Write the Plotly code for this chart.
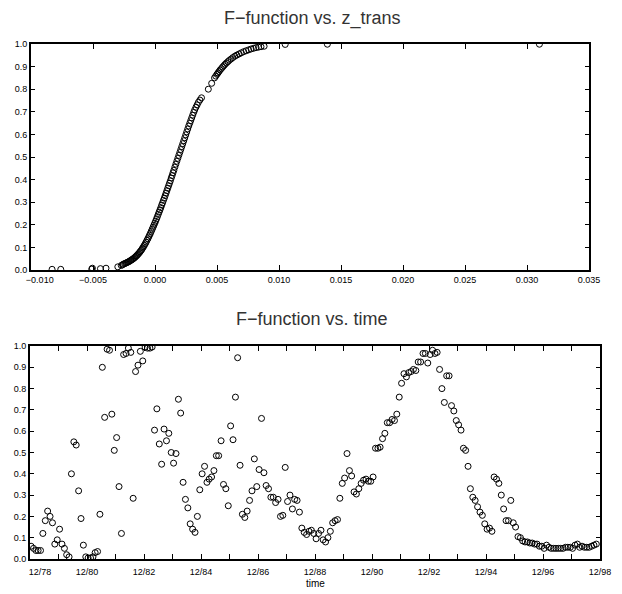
import plotly.graph_objects as go

# ---------------- data: F-function vs. z_trans ----------------
z_trans = [
    -0.00830, -0.00760, -0.00510, -0.00505, -0.00440, -0.00395,
    -0.00300, -0.00272, -0.00262, -0.00255, -0.00245, -0.00238, -0.00230, -0.00222,
    -0.00215, -0.00208, -0.00200, -0.00193, -0.00186, -0.00180, -0.00173, -0.00166,
    -0.00160, -0.00153, -0.00146, -0.00140, -0.00133, -0.00126, -0.00120, -0.00113,
    -0.00106, -0.00100, -0.00093, -0.00086, -0.00079, -0.00072, -0.00065, -0.00058,
    -0.00051, -0.00044, -0.00037, -0.00030, -0.00023, -0.00016, -0.00009, -0.00002,
    0.00005, 0.00012, 0.00019, 0.00026, 0.00033, 0.00040, 0.00047, 0.00054,
    0.00061, 0.00068, 0.00075, 0.00082, 0.00089, 0.00096, 0.00103, 0.00110,
    0.00117, 0.00124, 0.00131, 0.00138, 0.00145, 0.00152, 0.00160, 0.00168,
    0.00176, 0.00184, 0.00192, 0.00200, 0.00208, 0.00216, 0.00224, 0.00232,
    0.00240, 0.00248, 0.00256, 0.00264, 0.00272, 0.00280, 0.00288, 0.00296,
    0.00304, 0.00312, 0.00320, 0.00330, 0.00340, 0.00350, 0.00362, 0.00375,
    0.00430, 0.00457,
    0.00480, 0.00490, 0.00500, 0.00508, 0.00516, 0.00525, 0.00535, 0.00545,
    0.00555, 0.00565, 0.00576, 0.00588, 0.00600, 0.00614, 0.00628, 0.00644,
    0.00660, 0.00678, 0.00696, 0.00715, 0.00735, 0.00755, 0.00775, 0.00795,
    0.00815, 0.00835, 0.00855, 0.00880,
    0.01050, 0.01390, 0.03100,
]
F_z = [
    0.003, 0.003, 0.004, 0.008, 0.006, 0.008,
    0.014, 0.020, 0.023, 0.026, 0.028, 0.030, 0.032, 0.034,
    0.036, 0.038, 0.041, 0.043, 0.046, 0.048, 0.051, 0.054,
    0.057, 0.061, 0.064, 0.068, 0.072, 0.077, 0.081, 0.086,
    0.091, 0.097, 0.103, 0.109, 0.116, 0.123, 0.131, 0.138,
    0.146, 0.154, 0.162, 0.171, 0.180, 0.189, 0.198, 0.207,
    0.216, 0.226, 0.236, 0.246, 0.256, 0.266, 0.276, 0.287,
    0.297, 0.308, 0.318, 0.329, 0.340, 0.351, 0.362, 0.373,
    0.384, 0.395, 0.407, 0.418, 0.430, 0.441, 0.455, 0.468,
    0.481, 0.494, 0.507, 0.520, 0.533, 0.546, 0.559, 0.572,
    0.585, 0.598, 0.611, 0.624, 0.637, 0.649, 0.661, 0.673,
    0.685, 0.697, 0.708, 0.720, 0.731, 0.742, 0.752, 0.762,
    0.800, 0.826,
    0.850, 0.858, 0.866, 0.872, 0.878, 0.885, 0.891, 0.898,
    0.904, 0.910, 0.916, 0.922, 0.928, 0.934, 0.940, 0.946,
    0.951, 0.956, 0.961, 0.966, 0.970, 0.974, 0.978, 0.981,
    0.984, 0.986, 0.988, 0.990,
    0.998, 0.999, 0.999,
]

# ---------------- data: F-function vs. time (monthly, from 12/78) ----------------
F_time = [
    0.06, 0.05, 0.04, 0.04, 0.04, 0.12, 0.18, 0.225, 0.20, 0.17,
    0.07, 0.09, 0.14, 0.07, 0.05, 0.02, 0.01, 0.40, 0.55, 0.535,
    0.32, 0.19, 0.065, 0.01, 0.005, 0.005, 0.01, 0.03, 0.035, 0.21,
    0.90, 0.665, 0.985, 0.98, 0.68, 0.51, 0.57, 0.34, 0.12, 0.96,
    0.965, 0.99, 0.97, 0.285, 0.88, 0.91, 0.975, 0.93, 0.995, 0.99,
    0.99, 0.995, 0.605, 0.705, 0.54, 0.445, 0.61, 0.555, 0.59, 0.50,
    0.45, 0.495, 0.75, 0.685, 0.36, 0.28, 0.24, 0.165, 0.14, 0.125,
    0.20, 0.325, 0.40, 0.435, 0.36, 0.375, 0.385, 0.415, 0.485, 0.485, 0.555,
    0.35, 0.33, 0.25, 0.625, 0.56, 0.76, 0.945, 0.44, 0.21, 0.195,
    0.225, 0.275, 0.32, 0.47, 0.34, 0.42, 0.66, 0.405, 0.345, 0.33,
    0.29, 0.29, 0.265, 0.28, 0.20, 0.205, 0.43, 0.27, 0.30, 0.235,
    0.28, 0.275, 0.22, 0.145, 0.125, 0.115, 0.13, 0.135, 0.12, 0.095,
    0.12, 0.135, 0.09, 0.08, 0.10, 0.13, 0.17, 0.18, 0.185, 0.285,
    0.355, 0.38, 0.495, 0.415, 0.39, 0.315, 0.305, 0.33, 0.355, 0.37,
    0.375, 0.365, 0.365, 0.385, 0.52, 0.52, 0.525, 0.565, 0.59, 0.64,
    0.64, 0.655, 0.65, 0.68, 0.76, 0.825,
    0.87, 0.855, 0.875, 0.88, 0.89, 0.885, 0.925, 0.925, 0.965, 0.965,
    0.92, 0.96, 0.98, 0.965, 0.97, 0.89, 0.80, 0.735, 0.86, 0.86,
    0.72, 0.695, 0.65, 0.63, 0.605, 0.52, 0.51, 0.435, 0.33, 0.29,
    0.275, 0.245, 0.22, 0.205, 0.165, 0.14, 0.145, 0.13, 0.385, 0.375,
    0.355, 0.30, 0.235, 0.18, 0.18, 0.275, 0.17, 0.15, 0.105, 0.10,
    0.085, 0.08, 0.08, 0.075, 0.075, 0.07, 0.07, 0.06, 0.06, 0.05,
    0.065, 0.055, 0.05, 0.05, 0.05, 0.05, 0.05, 0.05, 0.055, 0.055,
    0.055, 0.05, 0.065, 0.07, 0.055, 0.06, 0.055, 0.055, 0.055, 0.06,
    0.065, 0.07,
]
START_YEAR, START_MONTH = 1978, 12
dates = []
for i in range(len(F_time)):
    k = START_MONTH - 1 + i
    dates.append(f"{START_YEAR + k // 12}-{k % 12 + 1:02d}-15")

z_ticks = [-0.010, -0.005, 0.000, 0.005, 0.010, 0.015, 0.020, 0.025, 0.030, 0.035]
z_ticktext = ["\u00a0" * 7 + "\u22120.010", "\u22120.005", "0.000", "0.005", "0.010",
              "0.015", "0.020", "0.025", "0.030", "0.035"]
year_ticks = [f"{y}-12-01" for y in range(1978, 1999)]
year_ticktext = [("12/%02d" % (y % 100)) if (y - 1978) % 2 == 0 else "" for y in range(1978, 1999)]
year_ticktext[0] = "\u00a0" * 8 + year_ticktext[0]
F_ticks = [round(0.1 * i, 1) for i in range(11)]

# The page body has an 8px margin, so the figure is drawn 8px in from the window
# corner; page positions below are given in window pixels and shifted by OFF.
OFF = 8
W, H = 614, 586

def px_dom_x(a, b):
    return [(a - OFF) / W, (b - OFF) / W]

def px_dom_y(top, bottom):
    return [1 - (bottom - OFF) / H, 1 - (top - OFF) / H]

def px_x(a):
    return (a - OFF) / W

def px_y(a):
    return 1 - (a - OFF) / H

fig = go.Figure()
marker = dict(symbol="circle-open", size=6, color="black", line=dict(width=1, color="black"))
fig.add_trace(go.Scatter(x=z_trans, y=F_z, mode="markers", marker=marker,
                         xaxis="x", yaxis="y", showlegend=False))
fig.add_trace(go.Scatter(x=dates, y=F_time, mode="markers", marker=marker,
                         xaxis="x2", yaxis="y2", showlegend=False))

tickfont = dict(family="Liberation Sans", size=9, color="black")
common = dict(showgrid=False, zeroline=False, showline=True, linecolor="black",
              linewidth=2, mirror="ticks", ticks="inside", tickwidth=1,
              tickcolor="black", tickfont=tickfont, automargin=False,
              ticklabeloverflow="allow")

title_font = dict(family="Liberation Sans", size=18, color="#333")
fig.update_layout(
    width=W, height=H, autosize=False,
    margin=dict(l=0, r=0, t=0, b=0, pad=0),
    paper_bgcolor="white", plot_bgcolor="white",
    xaxis=dict(domain=px_dom_x(31, 589), range=[-0.010, 0.035], tickmode="array",
               tickvals=z_ticks, ticktext=z_ticktext, anchor="y", ticklen=5, **common),
    yaxis=dict(domain=px_dom_y(44, 270), range=[0, 1], tickmode="array",
               tickvals=F_ticks, tickformat=".1f", anchor="x", ticklen=4, **common),
    xaxis2=dict(domain=px_dom_x(30, 600), range=["1978-12-01", "1998-12-01"],
                type="date", tickmode="array", tickvals=year_ticks,
                ticktext=year_ticktext, anchor="y2", ticklen=5,
                ticklabelstandoff=3, **common),
    yaxis2=dict(domain=px_dom_y(346, 559), range=[0, 1], tickmode="array",
                tickvals=F_ticks, tickformat=".1f", anchor="x2", ticklen=4, **common),
    annotations=[
        dict(text="F\u2212function vs. z_trans", x=px_x(312), y=px_y(18), xref="paper",
             yref="paper", showarrow=False, xanchor="center", yanchor="middle",
             font=title_font),
        dict(text="F\u2212function vs. time", x=px_x(312), y=px_y(319), xref="paper",
             yref="paper", showarrow=False, xanchor="center", yanchor="middle",
             font=title_font),
        dict(text="time", x=px_x(315), y=px_y(583), xref="paper", yref="paper",
             showarrow=False, xanchor="center", yanchor="middle",
             font=dict(family="Liberation Sans", size=10, color="black")),
    ],
)

fig.write_html("out.html")
